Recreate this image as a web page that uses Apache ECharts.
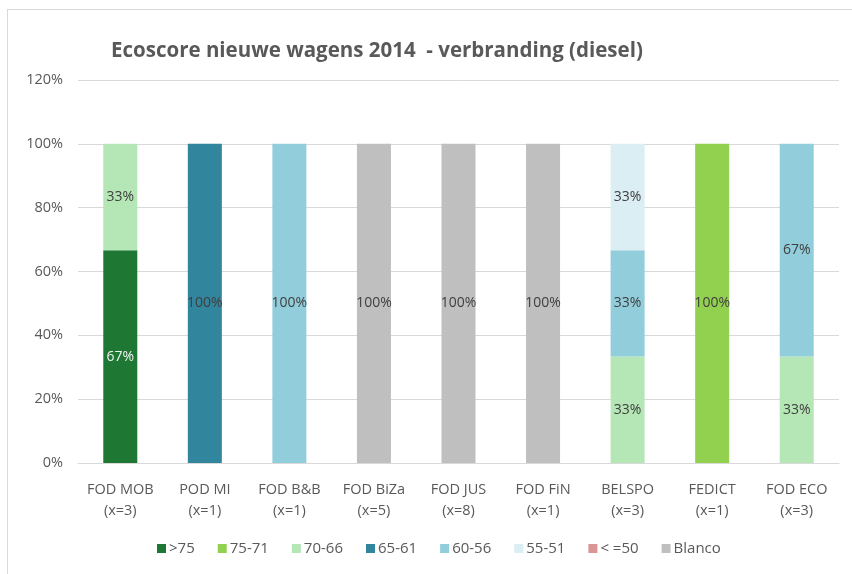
<!DOCTYPE html>
<html>
<head>
  <meta charset="utf-8">
  <title>Ecoscore</title>
  <script src="https://cdn.jsdelivr.net/npm/echarts@6/dist/echarts.min.js"></script>
  <style>
    body { margin: 0; padding: 0; background: #fff; }
    #main { width: 852px; height: 574px; }
    #frame { position: absolute; left: 7px; top: 9px; width: 860px; height: 580px;
      border-left: 1px solid #d9d9d9; border-top: 1px solid #d9d9d9; pointer-events: none; }
  </style>
</head>
<body>
<div id="main"></div>
<div id="frame"></div>
<script>
// diensten met aantal wagens
const categories = ['FOD MOB\n(x=3)', 'POD MI\n(x=1)', 'FOD B&B\n(x=1)', 'FOD BiZa\n(x=5)',
  'FOD JUS\n(x=8)', 'FOD FiN\n(x=1)', 'BELSPO\n(x=3)', 'FEDICT\n(x=1)', 'FOD ECO\n(x=3)'];
const classes = ['>75', '75-71', '70-66', '65-61', '60-56', '55-51', '< =50', 'Blanco'];
const colors = ['#1e7834', '#92d050', '#b5e6b5', '#31859c', '#92cddc', '#daeef3', '#da9694', '#bfbfbf'];
// aandeel per klasse (%), één rij per klasse
const s75 = [66.67, 0, 0, 0, 0, 0, 0, 0, 0];
const s7571 = [0, 0, 0, 0, 0, 0, 0, 100, 0];
const s7066 = [33.33, 0, 0, 0, 0, 0, 33.33, 0, 33.33];
const s6561 = [0, 100, 0, 0, 0, 0, 0, 0, 0];
const s6056 = [0, 0, 100, 0, 0, 0, 33.33, 0, 66.67];
const s5551 = [0, 0, 0, 0, 0, 0, 33.33, 0, 0];
const s50 = [0, 0, 0, 0, 0, 0, 0, 0, 0];
const blanco = [0, 0, 0, 100, 100, 100, 0, 0, 0];
const seriesData = [s75, s7571, s7066, s6561, s6056, s5551, s50, blanco];
const yTicks = [0, 20, 40, 60, 80, 100, 120];

const font = '"Open Sans", Lato, sans-serif';
var myChart = echarts.init(document.getElementById('main'));
myChart.setOption({
  animation: false,
  title: {
    text: 'Ecoscore nieuwe wagens 2014  - verbranding (diesel)',
    left: 106, top: 36,
    textStyle: { fontFamily: font, fontSize: 20.5, fontWeight: 'bold', color: '#595959' }
  },
  legend: {
    bottom: 13, left: 152, itemWidth: 9, itemHeight: 9, itemGap: 23,
    icon: 'rect',
    textStyle: { fontFamily: font, fontSize: 15, color: '#595959', padding: [0, 0, 0, -2] },
    data: classes
  },
  grid: { left: 78, right: 13, top: 80, bottom: 111 },
  xAxis: {
    type: 'category', data: categories,
    axisLine: { lineStyle: { color: '#d9d9d9' } },
    axisTick: { show: false },
    axisLabel: { interval: 0, fontFamily: font, fontSize: 14.5, color: '#595959', lineHeight: 21, margin: 16 }
  },
  yAxis: {
    type: 'value', min: yTicks[0], max: yTicks[yTicks.length - 1], interval: 20,
    axisLabel: { fontFamily: font, fontSize: 14.5, color: '#595959', formatter: '{value}%', margin: 15 },
    splitLine: { lineStyle: { color: '#d9d9d9' } },
    axisLine: { show: false }, axisTick: { show: false }
  },
  series: classes.map(function (name, i) {
    return {
      name: name, type: 'bar', stack: 'total', barWidth: 34,
      itemStyle: { color: colors[i] },
      label: {
        show: true, position: 'inside', fontFamily: font, fontSize: 14,
        color: i === 0 ? '#f2f2f2' : '#404040',
        formatter: function (p) { return p.value > 0 ? Math.round(p.value) + '%' : ''; }
      },
      data: seriesData[i]
    };
  })
});
</script>
</body>
</html>
